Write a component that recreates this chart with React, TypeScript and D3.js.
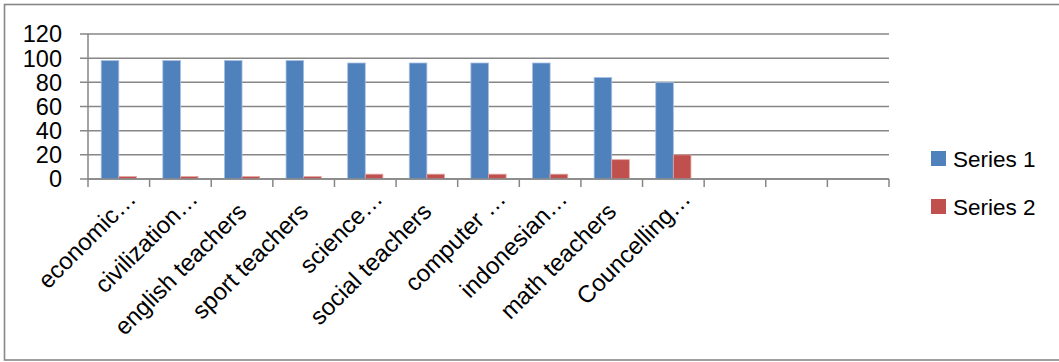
import React from "react";
import * as d3 from "d3";

// Chart data
const categories = [
  "economic…",
  "civilization…",
  "english teachers",
  "sport teachers",
  "science…",
  "social teachers",
  "computer …",
  "indonesian…",
  "math teachers",
  "Councelling…",
  "",
  "",
  "",
];
const series1: (number | null)[] = [98, 98, 98, 98, 96, 96, 96, 96, 84, 80, null, null, null];
const series2: (number | null)[] = [2, 2, 2, 2, 4, 4, 4, 4, 16, 20, null, null, null];
const seriesNames = ["Series 1", "Series 2"];
const seriesColors = ["#4F81BD", "#C0504D"];
const yTicks = [0, 20, 40, 60, 80, 100, 120];

const W = 1059;
const H = 362;
const FONT = "'Liberation Sans', Arial, sans-serif";
const GRID = "#868686";

export default function App() {
  const plot = { left: 88, right: 889, top: 34, bottom: 179 };

  const x = d3
    .scaleBand<number>()
    .domain(d3.range(categories.length))
    .range([plot.left, plot.right])
    .paddingInner(0)
    .paddingOuter(0);

  const xInner = d3
    .scaleBand<number>()
    .domain([0, 1])
    .range([0, x.bandwidth()])
    .paddingInner(0)
    .paddingOuter(0.75);

  const y = d3.scaleLinear().domain([0, 120]).range([plot.bottom, plot.top]);

  const allSeries = [series1, series2];
  const tickXs = d3.range(categories.length + 1).map((i) => plot.left + i * x.step());

  return (
    <svg
      width={W}
      height={H}
      style={{ position: "absolute", left: 0, top: 0, background: "#fff" }}
      fontFamily={FONT}
    >
      {/* chart frame */}
      <rect x={4.5} y={4.5} width={W + 10} height={355.5} fill="#fff" stroke="#878787" strokeWidth={1.6} />

      {/* horizontal gridlines + y ticks */}
      {yTicks.map((t) => (
        <g key={"g" + t}>
          <line x1={plot.left - 8} x2={plot.right} y1={y(t)} y2={y(t)} stroke={GRID} strokeWidth={1.5} />
          <text x={62} y={y(t)} dy="0.36em" textAnchor="end" fontSize={23.5} fill="#000">
            {t}
          </text>
        </g>
      ))}

      {/* y axis line */}
      <line x1={plot.left} x2={plot.left} y1={plot.top} y2={plot.bottom} stroke={GRID} strokeWidth={1.5} />

      {/* x axis tick marks */}
      {tickXs.map((tx, i) => (
        <line key={"t" + i} x1={tx} x2={tx} y1={plot.bottom} y2={plot.bottom + 8} stroke={GRID} strokeWidth={1.5} />
      ))}

      {/* bars */}
      {allSeries.map((vals, s) =>
        vals.map((v, i) =>
          v == null ? null : (
            <rect
              key={`b${s}-${i}`}
              x={(x(i) as number) + (xInner(s) as number)}
              y={y(v)}
              width={xInner.bandwidth()}
              height={y(0) - y(v)}
              fill={seriesColors[s]}
              stroke={s === 0 ? "#A7BFE0" : "#E0A5A3"}
              strokeWidth={0.8}
            />
          )
        )
      )}

      {/* x axis line */}
      <line x1={plot.left} x2={plot.right} y1={plot.bottom} y2={plot.bottom} stroke={GRID} strokeWidth={1.5} />

      {/* rotated category labels */}
      {categories.map((c, i) => {
        if (!c) return null;
        const cx = (x(i) as number) + x.bandwidth() / 2;
        const truncated = c.endsWith("…");
        return (
          <text
            key={"l" + i}
            transform={`translate(${cx + 6},${213}) rotate(-45)`}
            dx={truncated ? 18 : 0}
            textAnchor="end"
            fontSize={24}
            fill="#000"
          >
            {c}
          </text>
        );
      })}

      {/* legend */}
      {seriesNames.map((n, s) => {
        const ly = 151 + s * 48;
        return (
          <g key={"lg" + s}>
            <rect x={931} y={ly} width={15} height={15} fill={seriesColors[s]} />
            <text x={953} y={ly + 7.5} dy="0.36em" fontSize={22.5} fill="#000">
              {n}
            </text>
          </g>
        );
      })}
    </svg>
  );
}
